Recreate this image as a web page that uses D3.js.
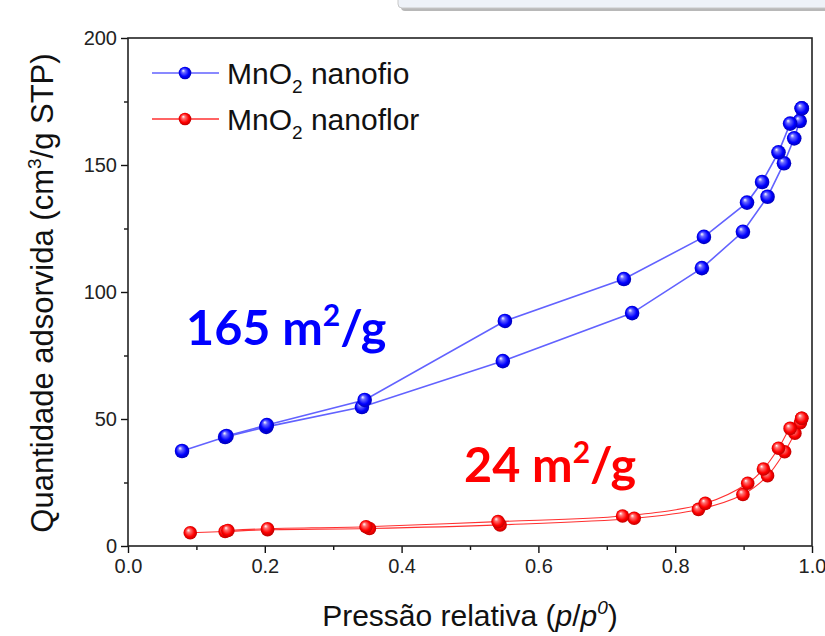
<!DOCTYPE html>
<html lang="en">
<head>
<meta charset="UTF-8">
<script src="https://d3js.org/d3.v7.min.js"></script>
<title>Isotermas MnO2</title>
<style>
    html, body { margin: 0; padding: 0; background: #fff; }
    svg { display: block; }
    text { font-family: 'Liberation Sans', Arial, sans-serif; }
    .tick text { font-size: 20px; fill: #222; }
    .big { font-family: Lato, 'Open Sans', sans-serif; font-weight: 700; }
</style>
</head>
<body>
<svg id="canvas"></svg>
<script>
// nanofio (blue): adsorption then desorption
let fioAdsP = [0.079, 0.142, 0.202, 0.342, 0.548, 0.737, 0.839, 0.899, 0.935, 0.959, 0.974, 0.982, 0.985]
let fioAdsV = [37.4, 42.9, 46.9, 54.7, 72.8, 91.7, 109.4, 123.7, 137.5, 150.7, 160.5, 167.3, 172.3]
let fioDesP = [0.985, 0.968, 0.951, 0.927, 0.905, 0.842, 0.725, 0.551, 0.346, 0.203, 0.144]
let fioDesV = [172.3, 166.3, 155.0, 143.3, 135.2, 121.7, 105.1, 88.6, 57.5, 47.6, 43.3]

// nanoflor (red)
let florAdsP = [0.091, 0.142, 0.204, 0.353, 0.544, 0.740, 0.834, 0.899, 0.935, 0.960, 0.975, 0.983, 0.985]
let florAdsV = [5.2, 5.7, 6.4, 6.9, 8.3, 10.9, 14.4, 20.3, 27.7, 37.1, 44.4, 48.5, 50.3]
let florDesP = [0.985, 0.968, 0.951, 0.929, 0.906, 0.844, 0.723, 0.541, 0.348, 0.204, 0.146]
let florDesV = [50.3, 46.3, 38.5, 30.3, 24.7, 16.8, 11.8, 9.6, 7.6, 6.8, 6.1]

let xTicks = [0, 0.2, 0.4, 0.6, 0.8, 1.0]
let yTicks = [0, 50, 100, 150, 200]

let width = 825
let height = 636
let padL = 128, padR = 812, padT = 38, padB = 546

let svg = d3.select('#canvas').attr('width', width).attr('height', height)

let xScale = d3.scaleLinear().domain([0, 1]).range([padL, padR])
let yScale = d3.scaleLinear().domain([0, 200]).range([padB, padT])

// top box (screenshot edge)
svg.append('rect').attr('x', 401).attr('y', -10).attr('width', 440).attr('height', 21)
    .attr('fill', '#b8b8b8').attr('rx', 4)
svg.append('rect').attr('x', 398).attr('y', -10).attr('width', 440).attr('height', 18)
    .attr('fill', '#eef2f8').attr('stroke', '#c8c8c8').attr('rx', 4)

// gradients for the ball markers
let defs = svg.append('defs')
let makeGrad = (id, light, mid, dark) => {
    let g = defs.append('radialGradient').attr('id', id)
        .attr('cx', '50%').attr('cy', '50%').attr('r', '55%')
        .attr('fx', '35%').attr('fy', '30%')
    g.append('stop').attr('offset', '0%').attr('stop-color', '#ffffff')
    g.append('stop').attr('offset', '25%').attr('stop-color', light)
    g.append('stop').attr('offset', '65%').attr('stop-color', mid)
    g.append('stop').attr('offset', '100%').attr('stop-color', dark)
}
makeGrad('ballBlue', '#6a6aff', '#0000ff', '#0000a8')
makeGrad('ballRed', '#ff7070', '#ff0000', '#b00000')

// axes
let xAxis = d3.axisBottom(xScale).tickValues(xTicks).tickFormat(d3.format('.1f')).tickSize(7).tickPadding(6)
let yAxis = d3.axisLeft(yScale).tickValues(yTicks).tickFormat(d3.format('d')).tickSize(7).tickPadding(4)

let xMinor = d3.axisBottom(xScale).tickValues([0.1, 0.3, 0.5, 0.7, 0.9]).tickFormat('').tickSize(4)
let yMinor = d3.axisLeft(yScale).tickValues([25, 75, 125, 175]).tickFormat('').tickSize(4)

svg.append('g').attr('transform', 'translate(0,' + padB + ')').call(xAxis)
svg.append('g').attr('transform', 'translate(0,' + padB + ')').call(xMinor)
svg.append('g').attr('transform', 'translate(' + padL + ',0)').call(yAxis)
svg.append('g').attr('transform', 'translate(' + padL + ',0)').call(yMinor)
svg.selectAll('.domain').remove()
svg.selectAll('.tick line').attr('stroke', '#111').attr('stroke-width', 1.4)

// frame
svg.append('rect').attr('x', padL).attr('y', padT).attr('width', padR - padL).attr('height', padB - padT)
    .attr('fill', 'none').attr('stroke', '#222').attr('stroke-width', 1.6)

// series
let pts = (ps, vs) => ps.map((p, i) => [p, vs[i]])
let lineStraight = d3.line().x(d => xScale(d[0])).y(d => yScale(d[1]))
let lineSmooth = d3.line().x(d => xScale(d[0])).y(d => yScale(d[1])).curve(d3.curveCatmullRom.alpha(0.5))

let series = [
    { ads: pts(fioAdsP, fioAdsV), des: pts(fioDesP, fioDesV), line: lineStraight, stroke: '#6262ff', w: 1.6, grad: 'url(#ballBlue)', r: 7.3 },
    { ads: pts(florAdsP, florAdsV), des: pts(florDesP, florDesV), line: lineSmooth, stroke: '#ff3030', w: 1.1, grad: 'url(#ballRed)', r: 6.8 }
]

series.forEach(s => {
    [s.ads, s.des].forEach(branch => {
        svg.append('path').datum(branch).attr('d', s.line)
            .attr('fill', 'none').attr('stroke', s.stroke).attr('stroke-width', s.w)
    })
    svg.append('g').selectAll('circle').data(s.ads.concat(s.des)).enter().append('circle')
        .attr('cx', d => xScale(d[0])).attr('cy', d => yScale(d[1]))
        .attr('r', s.r).attr('fill', s.grad)
})

// legend
let legend = [
    { label: 'nanofio', stroke: '#6262ff', grad: 'url(#ballBlue)', y: 73 },
    { label: 'nanoflor', stroke: '#ff3030', grad: 'url(#ballRed)', y: 119 }
]
legend.forEach(l => {
    svg.append('line').attr('x1', 152).attr('x2', 219).attr('y1', l.y).attr('y2', l.y)
        .attr('stroke', l.stroke).attr('stroke-width', 1.4)
    svg.append('circle').attr('cx', 185).attr('cy', l.y).attr('r', 6.3).attr('fill', l.grad)
    let t = svg.append('text').attr('x', 227).attr('y', l.y + 11).attr('font-size', 30).attr('fill', '#111')
    t.append('tspan').text('MnO')
    t.append('tspan').attr('font-size', 19).attr('dy', 9).text('2')
    t.append('tspan').attr('dy', -9).text(' ' + l.label)
})

// annotations
let a1 = svg.append('text').attr('class', 'big').attr('x', 186).attr('y', 345).attr('font-size', 48.5).attr('fill', '#0000ff')
a1.append('tspan').text('165 m')
a1.append('tspan').attr('font-size', 30).attr('dy', -19).text('2')
a1.append('tspan').attr('dy', 19).text('/g')

let a2 = svg.append('text').attr('class', 'big').attr('x', 464).attr('y', 482).attr('font-size', 48.5).attr('fill', '#ff0000')
a2.append('tspan').text('24 m')
a2.append('tspan').attr('font-size', 30).attr('dy', -19).text('2')
a2.append('tspan').attr('dy', 19).text('/g')

// axis titles
let xt = svg.append('text').attr('x', 470).attr('y', 626).attr('text-anchor', 'middle').attr('font-size', 30).attr('fill', '#111')
xt.append('tspan').text('Pressão relativa (')
xt.append('tspan').attr('font-style', 'italic').text('p')
xt.append('tspan').text('/')
xt.append('tspan').attr('font-style', 'italic').text('p')
xt.append('tspan').attr('font-style', 'italic').attr('font-size', 19).attr('dy', -12).text('0')
xt.append('tspan').attr('dy', 12).text(')')

let yt = svg.append('text').attr('transform', 'translate(53,293) rotate(-90)').attr('text-anchor', 'middle')
    .attr('font-size', 31).attr('fill', '#111')
yt.append('tspan').text('Quantidade adsorvida (cm')
yt.append('tspan').attr('font-size', 19).attr('dy', -12).text('3')
yt.append('tspan').attr('dy', 12).text('/g STP)')
</script>
</body>
</html>
